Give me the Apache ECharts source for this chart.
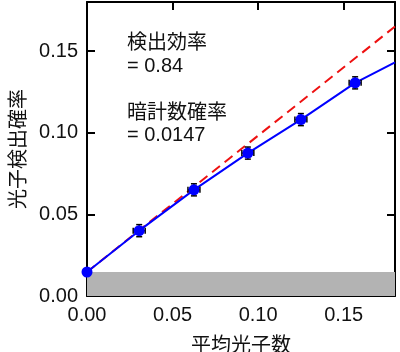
<!DOCTYPE html>
<html>
<head>
<meta charset="utf-8">
<script src="https://cdn.jsdelivr.net/npm/echarts@6/dist/echarts.min.js"></script>
<style>
  html, body { margin: 0; padding: 0; background: #fff; }
  #chart { width: 400px; height: 352px; }
</style>
</head>
<body>
<div id="chart"></div>
<script>
// measured points
const meanPhotons = [0, 0.0305, 0.0625, 0.094, 0.125, 0.1567];
const detectProb = [0.0147, 0.040, 0.065, 0.0875, 0.108, 0.1305];
const xErr = [0, 0.0035, 0.0035, 0.0035, 0.0035, 0.0035];
const yErr = [0, 0.0037, 0.0037, 0.0037, 0.0037, 0.0037];

// fitted curve (blue) and linear model (red dashed)
const fitX = [0, 0.0305, 0.0625, 0.094, 0.125, 0.1567, 0.18];
const fitY = [0.0147, 0.040, 0.065, 0.0875, 0.108, 0.1305, 0.143];
const linX = [0, 0.18];
const linY = [0.0147, 0.165];

const darkCount = 0.0147;
const tickLabels = ['0.00', '0.05', '0.10', '0.15'];

const numFont = '"Liberation Sans", Arial, sans-serif';
const jpFont = '"Noto Sans CJK JP", sans-serif';

const chart = echarts.init(document.getElementById('chart'));

const pts = meanPhotons.map((x, i) => [x, detectProb[i], xErr[i], yErr[i]]);

function fmt(v) {
  const s = v.toFixed(2);
  return tickLabels.includes(s) && Math.abs(v * 20 - Math.round(v * 20)) < 1e-6 ? s : '';
}

const axisBase = {
  type: 'value',
  min: 0,
  max: 0.18,
  interval: 0.05,
  axisLine: { show: true, onZero: false, lineStyle: { color: '#000', width: 2 } },
  axisTick: { show: true, inside: true, length: 8, lineStyle: { color: '#000', width: 2 } },
  splitLine: { show: false }
};

chart.setOption({
  animation: false,
  grid: { left: 87, right: 5, top: 2, bottom: 56, containLabel: false, outerBoundsMode: 'none' },
  xAxis: [
    Object.assign({}, axisBase, {
      position: 'bottom',
      name: '平均光子数',
      nameLocation: 'middle',
      nameGap: 38,
      nameTextStyle: { fontFamily: jpFont, fontSize: 20, color: '#111' },
      axisLabel: { fontFamily: numFont, fontSize: 20, color: '#111', margin: 9, formatter: fmt, showMaxLabel: false }
    }),
    Object.assign({}, axisBase, { position: 'top', axisLabel: { show: false } })
  ],
  yAxis: [
    Object.assign({}, axisBase, {
      position: 'left',
      name: '光子検出確率',
      nameLocation: 'middle',
      nameGap: 60,
      nameRotate: 90,
      nameTextStyle: { fontFamily: jpFont, fontSize: 20, color: '#111' },
      axisLabel: { fontFamily: numFont, fontSize: 20, color: '#111', margin: 9, formatter: fmt, showMaxLabel: false }
    }),
    Object.assign({}, axisBase, { position: 'right', axisLabel: { show: false } })
  ],
  graphic: [
    { type: 'text', left: 127, top: 31, style: { text: '検出効率', font: '20px ' + jpFont, fill: '#111' } },
    { type: 'text', left: 127, top: 56, style: { text: '= 0.84', font: '20px ' + numFont, fill: '#111' } },
    { type: 'text', left: 127, top: 101, style: { text: '暗計数確率', font: '20px ' + jpFont, fill: '#111' } },
    { type: 'text', left: 127, top: 125, style: { text: '= 0.0147', font: '20px ' + numFont, fill: '#111' } }
  ],
  series: [
    {
      type: 'line',
      data: linX.map((x, i) => [x, linY[i]]),
      symbol: 'none',
      lineStyle: { color: '#ee1111', width: 2, type: [10, 6] },
      markArea: {
        silent: true,
        itemStyle: { color: '#b3b3b3' },
        data: [[{ yAxis: 0 }, { yAxis: darkCount }]]
      },
      z: 2
    },
    {
      type: 'line',
      data: fitX.map((x, i) => [x, fitY[i]]),
      symbol: 'none',
      lineStyle: { color: '#0000ff', width: 2 },
      z: 3
    },
    {
      type: 'custom',
      data: pts,
      clip: false,
      z: 4,
      renderItem: function (params, api) {
        const x = api.value(0), y = api.value(1), ex = api.value(2), ey = api.value(3);
        if (!ex && !ey) return null;
        const c = api.coord([x, y]);
        const l = api.coord([x - ex, y]);
        const r = api.coord([x + ex, y]);
        const t = api.coord([x, y + ey]);
        const b = api.coord([x, y - ey]);
        const cap = 3;
        const st = { stroke: '#000', lineWidth: 1.5 };
        return {
          type: 'group',
          children: [
            { type: 'line', shape: { x1: l[0], y1: c[1], x2: r[0], y2: c[1] }, style: st },
            { type: 'line', shape: { x1: c[0], y1: t[1], x2: c[0], y2: b[1] }, style: st },
            { type: 'line', shape: { x1: l[0], y1: c[1] - cap, x2: l[0], y2: c[1] + cap }, style: st },
            { type: 'line', shape: { x1: r[0], y1: c[1] - cap, x2: r[0], y2: c[1] + cap }, style: st },
            { type: 'line', shape: { x1: c[0] - cap, y1: t[1], x2: c[0] + cap, y2: t[1] }, style: st },
            { type: 'line', shape: { x1: c[0] - cap, y1: b[1], x2: c[0] + cap, y2: b[1] }, style: st }
          ]
        };
      }
    },
    {
      type: 'scatter',
      data: pts.map(p => [p[0], p[1]]),
      symbol: 'circle',
      symbolSize: 11,
      clip: false,
      itemStyle: { color: '#0000ff', opacity: 1 },
      z: 5
    }
  ]
});
</script>
</body>
</html>
